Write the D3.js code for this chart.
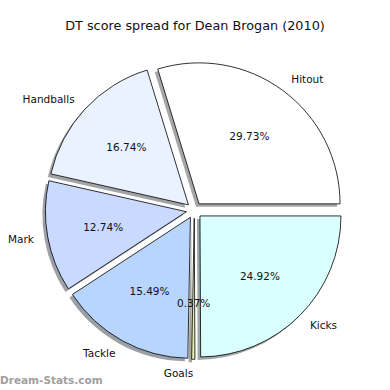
<!DOCTYPE html>
<html>
<head>
<meta charset="utf-8">
<script src="https://cdnjs.cloudflare.com/ajax/libs/d3/7.8.5/d3.min.js"></script>
<style>
  body { margin: 0; background: #fff; }
  text { font-family: "DejaVu Sans", sans-serif; }
</style>
</head>
<body>
<div id="chart"></div>
<script>
// data
const categories = ["Hitout", "Handballs", "Mark", "Tackle", "Goals", "Kicks"];
const percents = [29.73, 16.74, 12.74, 15.49, 0.37, 24.92];
const colors = ["#ffffff", "#eaf1ff", "#c9d9ff", "#b8d5ff", "#e6eeb8", "#d9ffff"];

const width = 390, height = 390;
const cx = 194.3, cy = 210.3, radius = 141;
const explode = 8;

const svg = d3.select("#chart")
    .append("svg")
    .attr("width", width)
    .attr("height", height);

svg.append("text")
    .attr("x", 195)
    .attr("y", 25)
    .attr("text-anchor", "middle")
    .attr("dominant-baseline", "central")
    .attr("font-size", 12.8)
    .attr("fill", "#111")
    .text("DT score spread for Dean Brogan (2010)");

// matplotlib style: start at 3 o'clock, counterclockwise
const pie = d3.pie()
    .sort(null)
    .value(d => d)
    .startAngle(Math.PI / 2)
    .endAngle(Math.PI / 2 - 2 * Math.PI);

const arcs = pie(percents);
const arc = d3.arc().innerRadius(0).outerRadius(radius);

const slices = arcs.map((a, i) => {
    const mid = (a.startAngle + a.endAngle) / 2;
    const dx = Math.sin(mid), dy = -Math.cos(mid);
    return {a: a, i: i, dx: dx, dy: dy, x: cx + explode * dx, y: cy + explode * dy};
});

// shadows
svg.append("g")
    .selectAll("path")
    .data(slices)
    .enter()
    .append("path")
    .attr("transform", d => "translate(" + (d.x - 3) + "," + (d.y + 3) + ")")
    .attr("d", d => arc(d.a))
    .attr("fill", d => {
        const c = d3.rgb(colors[d.i]);
        return d3.rgb(c.r * 0.3, c.g * 0.3, c.b * 0.3);
    })
    .attr("opacity", 0.5);

// wedges
svg.append("g")
    .selectAll("path")
    .data(slices)
    .enter()
    .append("path")
    .attr("transform", d => "translate(" + d.x + "," + d.y + ")")
    .attr("d", d => arc(d.a))
    .attr("fill", d => colors[d.i])
    .attr("stroke", "#000")
    .attr("stroke-width", 0.8);

// category labels
svg.append("g")
    .selectAll("text")
    .data(slices)
    .enter()
    .append("text")
    .attr("x", d => d.x + 1.1 * radius * d.dx)
    .attr("y", d => d.y + 1.1 * radius * d.dy)
    .attr("text-anchor", d => d.dx >= 0 ? "start" : "end")
    .attr("dominant-baseline", "central")
    .attr("font-size", 10.5)
    .attr("fill", "#111")
    .text(d => categories[d.i]);

// percent labels
svg.append("g")
    .selectAll("text")
    .data(slices)
    .enter()
    .append("text")
    .attr("x", d => d.x + 0.6 * radius * d.dx)
    .attr("y", d => d.y + 0.6 * radius * d.dy)
    .attr("text-anchor", "middle")
    .attr("dominant-baseline", "central")
    .attr("font-size", 10.5)
    .attr("fill", "#111")
    .text(d => percents[d.i].toFixed(2) + "%");

// watermark
svg.append("text")
    .attr("x", 0)
    .attr("y", 380)
    .attr("dominant-baseline", "central")
    .attr("font-size", 10.5)
    .attr("font-weight", "bold")
    .attr("fill", "#a0a0a0")
    .text("Dream-Stats.com");
</script>
</body>
</html>
